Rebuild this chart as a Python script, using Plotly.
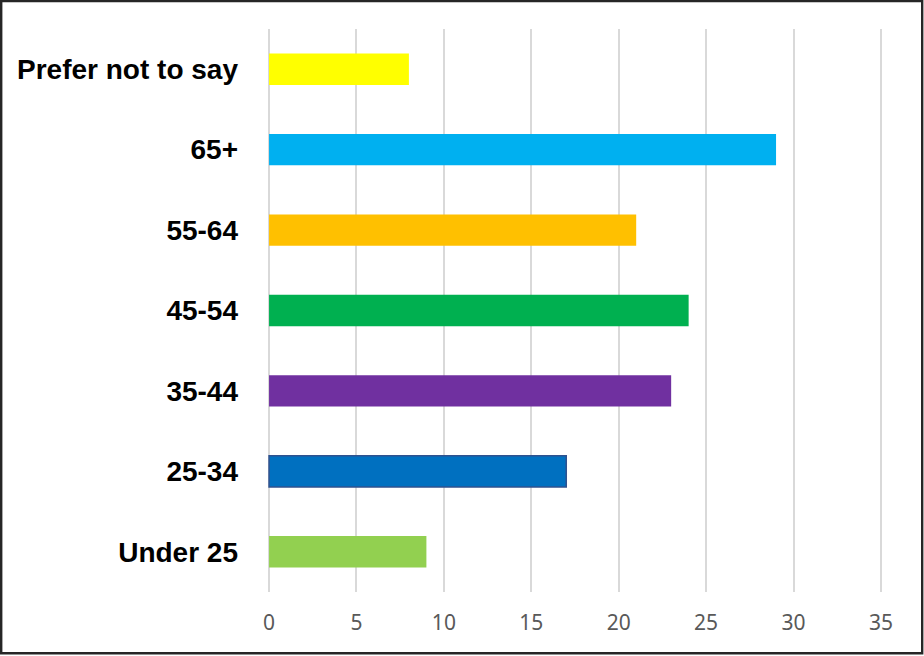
import plotly.graph_objects as go

# Respondent age groups (bottom to top) and their counts
categories = ["Under 25", "25-34", "35-44", "45-54", "55-64", "65+", "Prefer not to say"]
counts = [9, 17, 23, 24, 21, 29, 8]
bar_colors = ["#92D050", "#0070C0", "#7030A0", "#00B050", "#FFC000", "#00B0F0", "#FFFF00"]
edge_colors = ["#92D050", "#2F528F", "#7030A0", "#00B050", "#FFC000", "#00B0F0", "#FFFF00"]
edge_widths = [0, 1.5, 0, 0, 0, 0, 0]
x_ticks = [0, 5, 10, 15, 20, 25, 30, 35]

W, H = 924, 656
ML, MR, MT, MB = 268, 42, 29, 64
PW, PH = W - ML - MR, H - MT - MB

fig = go.Figure(
    go.Bar(
        y=categories,
        x=counts,
        orientation="h",
        width=0.39,
        marker=dict(color=bar_colors, line=dict(color=edge_colors, width=edge_widths)),
        hoverinfo="x+y",
    )
)


def px_to_paper_x(px):
    return (px - ML) / PW


def px_to_paper_y(py):
    return (H - MB - py) / PH


# Outer frame around the whole chart
fig.add_shape(
    type="rect",
    xref="paper", yref="paper",
    x0=px_to_paper_x(1.2), x1=px_to_paper_x(922.2),
    y0=px_to_paper_y(653.2), y1=px_to_paper_y(1.0),
    line=dict(color="#262626", width=2.4),
    fillcolor="rgba(0,0,0,0)",
    layer="above",
)

fig.update_layout(
    width=W,
    height=H,
    margin=dict(l=ML, r=MR, t=MT, b=MB, pad=0),
    paper_bgcolor="white",
    plot_bgcolor="white",
    showlegend=False,
    bargap=0.6,
    xaxis=dict(
        # a hair of padding so the 0 and 35 gridlines are drawn
        range=[-0.06, 35.06],
        tickvals=x_ticks,
        ticktext=[str(v) for v in x_ticks],
        showgrid=True,
        gridcolor="#D9D9D9",
        gridwidth=2,
        zeroline=False,
        showline=False,
        ticks="",
        ticklabelstandoff=16,
        tickfont=dict(family="Noto Sans, Liberation Sans, sans-serif", size=21, color="#595959"),
        fixedrange=True,
    ),
    yaxis=dict(
        categoryorder="array",
        categoryarray=categories,
        range=[-0.5, len(categories) - 0.5],
        showgrid=False,
        zeroline=False,
        showline=False,
        ticks="",
        ticklabelstandoff=29,
        tickfont=dict(family="Liberation Sans, Arial, sans-serif", size=28, color="#000000", weight="bold"),
        fixedrange=True,
    ),
)

fig.write_html("out.html")
